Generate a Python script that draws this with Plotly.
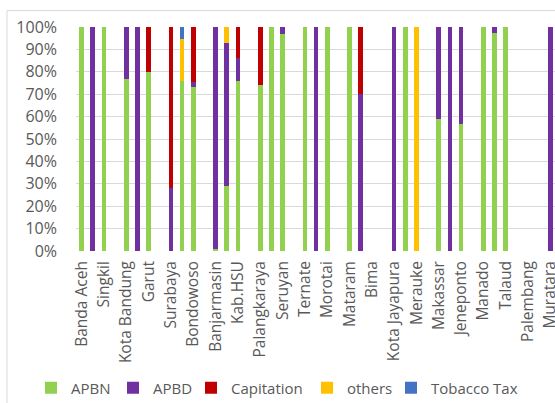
import plotly.graph_objects as go

# Region names (each region has two bars; label shown under the first)
regions = ["Banda Aceh", "Singkil", "Kota Bandung", "Garut", "Surabaya", "Bondowoso",
           "Banjarmasin", "Kab.HSU", "Palangkaraya", "Seruyan", "Ternate", "Morotai",
           "Mataram", "Bima", "Kota Jayapura", "Merauke", "Makassar", "Jeneponto",
           "Manado", "Talaud", "Palembang", "Muratara"]

bar_index = list(range(44))

apbn = [100, 0, 100, 0, 77, 0, 80, 0, 0, 76, 73, 0, 1, 29, 76, 0, 74, 100, 97, 0, 100, 0,
        100, 0, 100, 0, 0, 0, 0, 100, 0, 0, 59, 0, 56.5, 0, 100, 97.5, 100, 0, 0, 0, 0, 0]
apbd = [0, 100, 0, 0, 23, 100, 0, 0, 28, 0, 2.5, 0, 99, 64, 10, 0, 0, 0, 3, 0, 0, 100,
        0, 0, 0, 70, 0, 0, 100, 0, 0, 0, 41, 100, 43.5, 0, 0, 2.5, 0, 0, 0, 0, 100, 0]
capitation = [0, 0, 0, 0, 0, 0, 20, 0, 72, 0, 24.5, 0, 0, 0, 14, 0, 26, 0, 0, 0, 0, 0,
              0, 0, 0, 30, 0, 0, 0, 0, 0, 0, 0, 0, 0, 0, 0, 0, 0, 0, 0, 0, 0, 0]
others = [0, 0, 0, 0, 0, 0, 0, 0, 0, 18.5, 0, 0, 0, 7, 0, 0, 0, 0, 0, 0, 0, 0,
          0, 0, 0, 0, 0, 0, 0, 0, 100, 0, 0, 0, 0, 0, 0, 0, 0, 0, 0, 0, 0, 0]
tobacco = [0, 0, 0, 0, 0, 0, 0, 0, 0, 5.5, 0, 0, 0, 0, 0, 0, 0, 0, 0, 0, 0, 0,
           0, 0, 0, 0, 0, 0, 0, 0, 0, 0, 0, 0, 0, 0, 0, 0, 0, 0, 0, 0, 0, 0]

y_ticks = list(range(0, 101, 10))

series = [("APBN", apbn, "#92D050"), ("APBD", apbd, "#7030A0"),
          ("Capitation", capitation, "#C00000"), ("others", others, "#FFC000"),
          ("Tobacco Tax", tobacco, "#4472C4")]

# left edge (px) of each legend entry's box
legend_left_px = [31, 113, 191, 307, 391]

FONT = "Open Sans"
GREY = "#595959"
W, H = 555, 403

fig = go.Figure()
legend_layouts = {}
for k, (name, vals, col) in enumerate(series):
    lid = "legend" if k == 0 else f"legend{k + 1}"
    fig.add_trace(go.Bar(x=bar_index, y=vals, name=name, legend=lid,
                         marker=dict(color=col, line=dict(width=0)), width=0.42))
    legend_layouts[lid] = dict(orientation="h", xref="container", yref="container",
                               x=legend_left_px[k] / W, xanchor="left",
                               y=15 / H, yanchor="middle",
                               font=dict(family=FONT, size=15, color=GREY),
                               bgcolor="rgba(0,0,0,0)", itemclick=False)

fig.update_layout(
    width=W, height=H,
    barmode="stack",
    paper_bgcolor="white", plot_bgcolor="white",
    margin=dict(l=76, r=0, t=26.5, b=151.5, autoexpand=False),
    font=dict(family=FONT, size=16, color=GREY),
    showlegend=True,
    shapes=[dict(type="rect", xref="paper", yref="paper",
                 x0=(7 - 76) / 479, x1=1.2, y0=-0.75, y1=(251.5 - 10) / 225,
                 line=dict(color="#d9d9d9", width=1), fillcolor="rgba(0,0,0,0)", layer="below")],
    **legend_layouts,
)
fig.update_xaxes(range=[-0.5, 42.41], tickmode="array",
                 tickvals=[2 * i for i in range(len(regions))], ticktext=regions,
                 tickangle=-90, showgrid=False, zeroline=False, showline=False,
                 ticks="", ticklabelstandoff=6, automargin=False,
                 ticklabeloverflow="allow",
                 tickfont=dict(family=FONT, size=15.5, color=GREY))
fig.update_yaxes(range=[0, 100], tickmode="array", tickvals=y_ticks,
                 ticktext=[f"{v}%" for v in y_ticks],
                 showgrid=True, gridcolor="#d9d9d9", gridwidth=1, zeroline=False,
                 showline=False, ticks="", ticklabelstandoff=18, automargin=False,
                 tickfont=dict(family=FONT, size=16, color=GREY))

fig.write_html("out.html", config={"displayModeBar": False},
               post_script="document.body.style.margin='0';document.body.style.overflow='hidden';")
